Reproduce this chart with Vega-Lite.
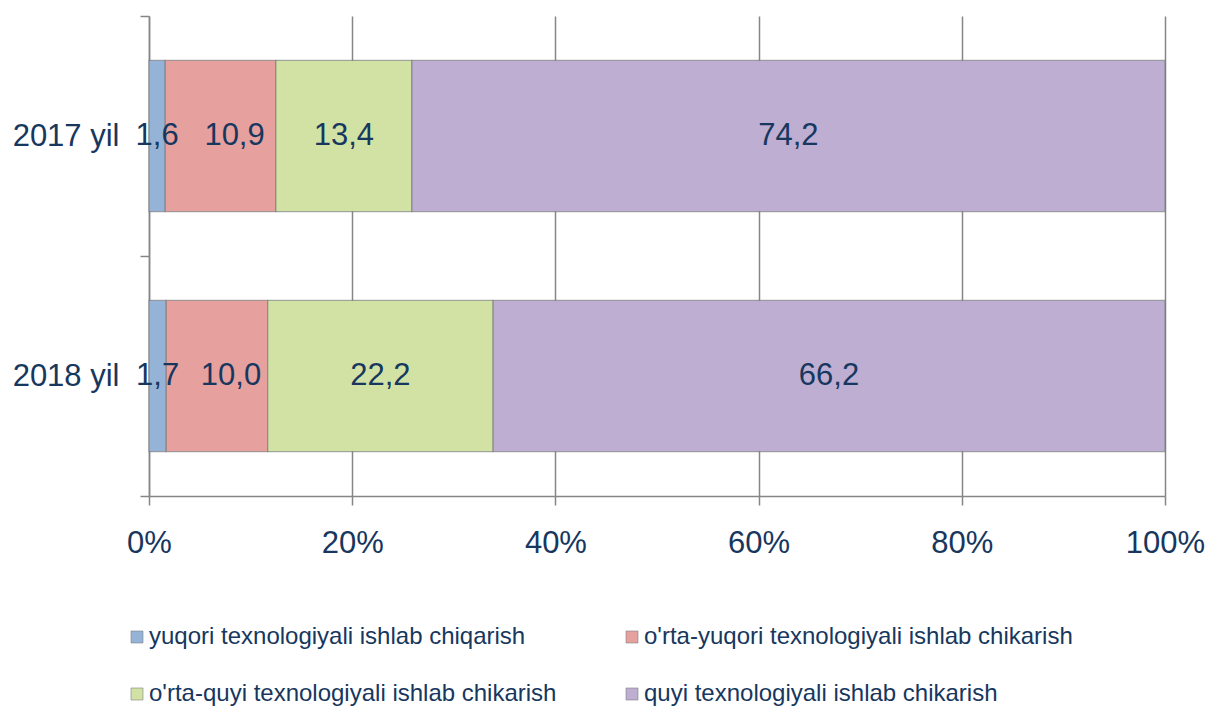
{
  "$schema": "https://vega.github.io/schema/vega-lite/v6.json",
  "width": 1016,
  "height": 480,
  "autosize": {"type": "none"},
  "padding": {"left": 149, "top": 16, "right": 44, "bottom": 212},
  "background": "white",
  "config": {
    "font": "Liberation Sans",
    "view": {"stroke": null},
    "locale": {"number": {"decimal": ",", "thousands": " ", "grouping": [3], "currency": ["", ""]}}
  },
  "data": {
    "values": [
      {"year": "2017 yil", "cat": "yuqori texnologiyali ishlab chiqarish", "ord": 1, "value": 1.6},
      {"year": "2017 yil", "cat": "o'rta-yuqori texnologiyali ishlab chikarish", "ord": 2, "value": 10.9},
      {"year": "2017 yil", "cat": "o'rta-quyi texnologiyali ishlab chikarish", "ord": 3, "value": 13.4},
      {"year": "2017 yil", "cat": "quyi texnologiyali ishlab chikarish", "ord": 4, "value": 74.2},
      {"year": "2018 yil", "cat": "yuqori texnologiyali ishlab chiqarish", "ord": 1, "value": 1.7},
      {"year": "2018 yil", "cat": "o'rta-yuqori texnologiyali ishlab chikarish", "ord": 2, "value": 10.0},
      {"year": "2018 yil", "cat": "o'rta-quyi texnologiyali ishlab chikarish", "ord": 3, "value": 22.2},
      {"year": "2018 yil", "cat": "quyi texnologiyali ishlab chikarish", "ord": 4, "value": 66.2}
    ]
  },
  "encoding": {
    "y": {
      "field": "year", "type": "nominal", "sort": ["2017 yil", "2018 yil"],
      "scale": {"paddingInner": 0, "paddingOuter": 0},
      "axis": {
        "title": null, "tickBand": "extent", "domainColor": "#868686", "tickColor": "#868686",
        "domainWidth": 1.5, "tickWidth": 1.5, "tickSize": 9, "labelPadding": 21,
        "labelFontSize": 31, "labelColor": "#17375E", "labelFont": "Liberation Sans", "grid": false
      }
    },
    "x": {
      "field": "value", "type": "quantitative", "stack": "normalize",
      "scale": {"domain": [0, 1], "nice": false},
      "axis": {
        "title": null, "format": ".0%", "values": [0, 0.2, 0.4, 0.6, 0.8, 1],
        "domainColor": "#868686", "tickColor": "#868686", "gridColor": "#868686",
        "domainWidth": 1.5, "tickWidth": 1.5, "gridWidth": 1.5, "tickSize": 9,
        "labelPadding": 23, "labelFontSize": 31, "labelColor": "#17375E", "labelFont": "Liberation Sans",
        "grid": true, "labelFlush": false
      }
    },
    "order": {"field": "ord", "type": "quantitative"}
  },
  "layer": [
    {
      "mark": {"type": "bar", "height": {"band": 0.63}, "stroke": "#6f6f6f", "strokeOpacity": 0.6, "strokeWidth": 1.2},
      "encoding": {
        "color": {
          "field": "cat", "type": "nominal",
          "sort": ["yuqori texnologiyali ishlab chiqarish", "o'rta-yuqori texnologiyali ishlab chikarish", "o'rta-quyi texnologiyali ishlab chikarish", "quyi texnologiyali ishlab chikarish"],
          "scale": {
            "domain": ["yuqori texnologiyali ishlab chiqarish", "o'rta-yuqori texnologiyali ishlab chikarish", "o'rta-quyi texnologiyali ishlab chikarish", "quyi texnologiyali ishlab chikarish"],
            "range": ["#95B3D7", "#E6A09E", "#D2E2A5", "#BDAED2"]
          },
          "legend": {
            "title": null, "orient": "none", "legendX": -24, "legendY": 609,
            "direction": "horizontal", "columns": 2, "columnPadding": 63, "rowPadding": 33,
            "symbolType": "square", "symbolSize": 144, "symbolStrokeColor": "#7f7f7f", "symbolStrokeWidth": 0.6,
            "labelFontSize": 24, "labelColor": "#17375E", "labelFont": "Liberation Sans", "labelOffset": 0,
            "labelLimit": 0, "padding": 0
          }
        }
      }
    },
    {
      "mark": {"type": "text", "fontSize": 31, "color": "#17375E", "font": "Liberation Sans", "baseline": "middle", "align": "center"},
      "encoding": {
        "x": {"field": "value", "type": "quantitative", "stack": "normalize", "bandPosition": 0.5},
        "text": {"field": "value", "type": "quantitative", "format": ".1f"},
        "opacity": {"condition": {"test": "datum.ord == 2", "value": 0}, "value": 1}
      }
    },
    {
      "mark": {"type": "text", "fontSize": 31, "color": "#17375E", "font": "Liberation Sans", "baseline": "middle", "align": "center", "dx": 14},
      "encoding": {
        "x": {"field": "value", "type": "quantitative", "stack": "normalize", "bandPosition": 0.5},
        "text": {"field": "value", "type": "quantitative", "format": ".1f"},
        "opacity": {"condition": {"test": "datum.ord == 2", "value": 1}, "value": 0}
      }
    }
  ]
}
